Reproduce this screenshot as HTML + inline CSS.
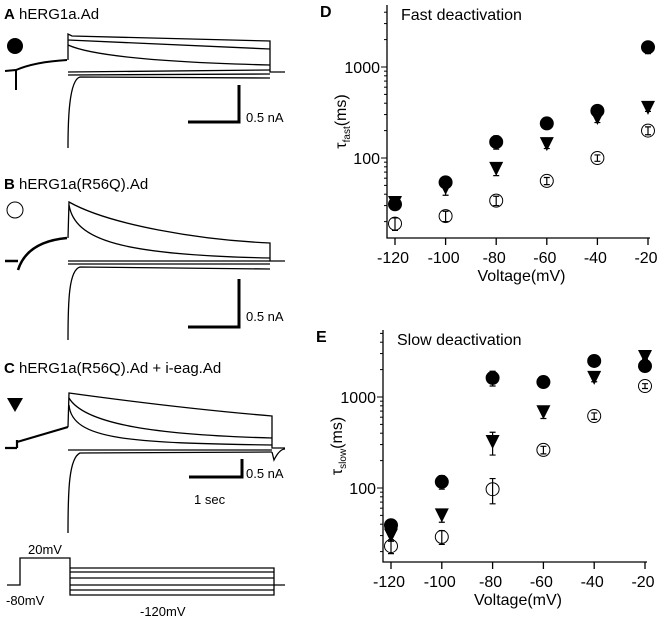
<!DOCTYPE html>
<html><head><meta charset="utf-8"><style>
body{margin:0;background:#fff;}
svg{display:block;font-family:"Liberation Sans",Arial,sans-serif;}
</style></head><body>
<svg id="fig" width="661" height="619" viewBox="0 0 661 619">
<g>
<text x="4" y="19" font-size="15"><tspan font-weight="bold">A</tspan> hERG1a.Ad</text>
<circle cx="15" cy="46" r="8" fill="#000"/>
<g fill="none" stroke="#000" stroke-width="1.3">
<path d="M5 71 L16 70 L16 90 M16 70 C30 64 50 61 67 60" stroke-width="2"/>
<path d="M68 60 L68 34 L72 36 L270 41 L270 72 L285 72"/>
<path d="M68 40 L270 49"/>
<path d="M68 45 C90 55 150 62 270 65"/>
<path d="M68 72 L270 70"/>
<path d="M68 75 L270 74"/>
<path d="M68 148 C68 120 69 80 80 77 L270 78"/>
</g>
<g>
<path d="M239 85 V122 H188" fill="none" stroke="#000" stroke-width="3"/>
<text x="246" y="122" font-size="13">0.5 nA</text>
</g>
</g>
<g>
<text x="4" y="189" font-size="15"><tspan font-weight="bold">B</tspan> hERG1a(R56Q).Ad</text>
<circle cx="15" cy="210" r="8" fill="none" stroke="#000" stroke-width="1"/>
<g fill="none" stroke="#000" stroke-width="1.3">
<path d="M5 261 L18 261 M18 270 C25 248 45 240 67 238" stroke-width="2.5"/>
<path d="M68 238 L69 202 C110 225 200 240 270 243 L270 261 L285 261"/>
<path d="M69 205 C75 240 120 255 270 258"/>
<path d="M68 261 L270 261"/>
<path d="M68 264 L270 264"/>
<path d="M68 340 C68 300 69 270 80 267 L270 269"/>
</g>
<g>
<path d="M239 279 V327 H188" fill="none" stroke="#000" stroke-width="3"/>
<text x="246" y="321" font-size="13">0.5 nA</text>
</g>
</g>
<g>
<text x="4" y="373" font-size="15"><tspan font-weight="bold">C</tspan> hERG1a(R56Q).Ad + i-eag.Ad</text>
<path d="M7 398 L23 398 L15 412 Z" fill="#000"/>
<g fill="none" stroke="#000" stroke-width="1.3">
<path d="M5 448 L17 448 M17 440 V448 M17 442 L68 427" stroke-width="2.2"/>
<path d="M68 427 L69 393 C120 400 200 410 272 416 L272 448 L285 448"/>
<path d="M69 398 C85 425 160 435 272 438"/>
<path d="M69 405 C72 440 130 443 272 445"/>
<path d="M68 450 L272 450"/>
<path d="M68 533 C68 490 69 458 80 453 L272 452"/>
<path d="M272 452 L274 460 C278 452 282 449 285 449"/>
</g>
<g>
<path d="M242 459 V477 H189" fill="none" stroke="#000" stroke-width="3"/>
<text x="246" y="478" font-size="13">0.5 nA</text>
<text x="194" y="504" font-size="13">1 sec</text>
</g>
<g fill="none" stroke="#000" stroke-width="1.3">
<path d="M7 585 H20 V558 H70 V595 H274 V568 H70"/>
<path d="M70 572 H274 M70 578 H274 M70 585 H285 M70 590 H274"/>
</g>
<text x="28" y="554" font-size="13">20mV</text>
<text x="6" y="605" font-size="13">-80mV</text>
<text x="140" y="616" font-size="13">-120mV</text>
</g>
<g id="pd"></g>
<g id="pe"></g>
</svg>
<script>
const voltages = [-120, -100, -80, -60, -40, -20];
const xTickLabels = ["-120", "-100", "-80", "-60", "-40", "-20"];
const fastWT = [31, 54, 150, 240, 330, 1650];
const fastR56Q = [19, 23, 34, 56, 100, 200];
const fastCoexp = [32, 47, 76, 142, 275, 355];
const slowWT = [39, 117, 1620, 1460, 2490, 2190];
const slowR56Q = [23, 29, 97, 262, 618, 1320];
const slowCoexp = [30, 50, 320, 680, 1620, 2750];
const fastErr = [[3, 5, 25, 20, 30, 250], [3, 3, 4, 5, 8, 20], [3, 8, 12, 15, 30, 30]];
const slowErr = [[4, 20, 300, 100, 150, 150], [4, 5, 30, 25, 50, 80], [4, 8, 90, 100, 150, 150]];
const yTickLabels = ["100", "1000"];

const NS = "http://www.w3.org/2000/svg";
function mk(parent, tag, attrs) {
  const e = document.createElementNS(NS, tag);
  for (const k in attrs) e.setAttribute(k, attrs[k]);
  parent.appendChild(e);
  return e;
}
function panel(g, cfg) {
  const xs = v => cfg.x0 + (v - (-120)) / 100 * (cfg.x1 - cfg.x0);
  const ys = v => cfg.y100 - (Math.log10(v) - 2) * cfg.dec;
  const L = mk(g, "text", {x: cfg.axX - 67, y: cfg.top + 12, "font-size": 16, "font-weight": "bold"});
  L.textContent = cfg.letter;
  
  
  const T = mk(g, "text", {x: cfg.axX + 14, y: cfg.top + 15, "font-size": 16});
  T.textContent = cfg.title;
  
  
  const ax = mk(g, "path", {d: `M${cfg.axX} ${cfg.top} V${cfg.bot} H${cfg.x1 + 2}`, fill: "none", stroke: "#000", "stroke-width": 1.3});
  
  
  for (let d = 1; d <= 4; d++) {
    for (let m = 1; m <= 9; m++) {
      const v = m * Math.pow(10, d);
      const y = ys(v);
      if (y > cfg.bot || y < cfg.top) continue;
      const len = m === 1 ? 6 : 3;
      const t = mk(g, "line", {x1: cfg.axX - len, x2: cfg.axX, y1: y, y2: y, stroke: "#000", "stroke-width": 1});
      
      
    }
  }
  yTickLabels.forEach(s => {
    const t = mk(g, "text", {x: cfg.axX - 7, y: ys(+s) + 6, "font-size": 16, "text-anchor": "end"});
    t.textContent = s;
    
    
  });
  voltages.forEach((v, i) => {
    const x = xs(v);
    const t = mk(g, "line", {x1: x, x2: x, y1: cfg.bot, y2: cfg.bot + 7, stroke: "#000", "stroke-width": 1.3});
    
    
    const l = mk(g, "text", {x: x - 2, y: cfg.bot + 25, "font-size": 16, "text-anchor": "middle"});
    l.textContent = xTickLabels[i];
    
    
  });
  const xt = mk(g, "text", {x: (cfg.x0 + cfg.x1) / 2, y: cfg.bot + 43, "font-size": 16, "text-anchor": "middle"});
  xt.textContent = "Voltage(mV)";
  
  
  const yc = (cfg.top + cfg.bot) / 2;
  const yt = mk(g, "text", {x: 0, y: 0, "font-size": 16, "text-anchor": "middle", transform: `translate(${cfg.axX - 41},${yc}) rotate(-90)`});
  yt.innerHTML = `τ<tspan font-size="10" dy="4">${cfg.sub}</tspan><tspan dy="-4">(ms)</tspan>`;
  
  
  const series = [[cfg.s[0], "circle", cfg.e[0]], [cfg.s[2], "tri", cfg.e[2]], [cfg.s[1], "open", cfg.e[1]]];
  series.forEach(([vals, kind, errs]) => {
    vals.forEach((v, i) => {
      const x = xs(voltages[i]), y = ys(v);
      const ylo = ys(Math.max(v - errs[i], 1)), yhi = ys(v + errs[i]);
      const eb = mk(g, "path", {d: `M${x} ${yhi} V${ylo} M${x - 3} ${yhi} H${x + 3} M${x - 3} ${ylo} H${x + 3}`, stroke: "#000", "stroke-width": 1.2, fill: "none"});
      
      
      let m;
      if (kind === "circle") m = mk(g, "circle", {cx: x, cy: y, r: 7, fill: "#000"});
      else if (kind === "open") m = mk(g, "circle", {cx: x, cy: y, r: 6.5, fill: "none", stroke: "#000", "stroke-width": 1});
      else m = mk(g, "path", {d: `M${x - 7} ${y - 7} H${x + 7} L${x} ${y + 7} Z`, fill: "#000"});
      
      
    });
  });
}
panel(document.getElementById("pd"), {letter: "D", title: "Fast deactivation", sub: "fast", axX: 387, x0: 395, x1: 648, y100: 158, dec: 91, top: 5, bot: 238, s: [fastWT, fastR56Q, fastCoexp], e: fastErr});
panel(document.getElementById("pe"), {letter: "E", title: "Slow deactivation", sub: "slow", axX: 383, x0: 391, x1: 645, y100: 488, dec: 91, top: 330, bot: 562, s: [slowWT, slowR56Q, slowCoexp], e: slowErr});
</script>
</body></html>
